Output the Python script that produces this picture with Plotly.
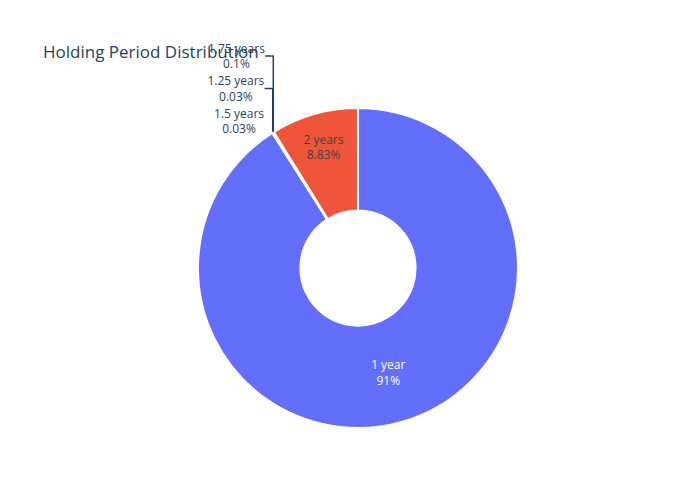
import plotly.graph_objects as go

labels = ["1 year", "2 years", "1.75 years", "1.25 years", "1.5 years"]
counts = [9100, 883, 10, 3, 3]

fig = go.Figure(go.Pie(labels=labels, values=counts, hole=0.36,
                       textinfo="label+percent", showlegend=False,
                       marker=dict(line=dict(color="white", width=2))))
fig.update_layout(title=dict(text="Holding Period Distribution"),
                  width=700, height=500, template="plotly")
fig.write_html("out.html")
